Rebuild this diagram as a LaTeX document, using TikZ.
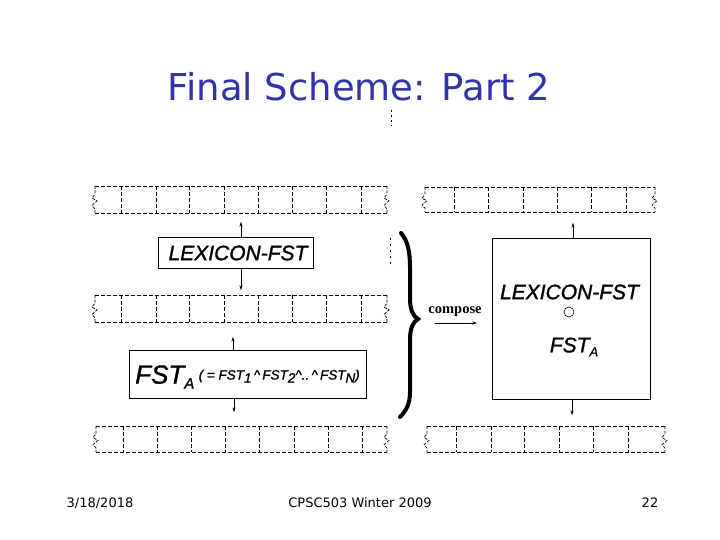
\documentclass[tikz,border=0pt]{standalone}
\usepackage{fontspec}
\setmainfont{Liberation Sans}
\newfontfamily\titlefont{DejaVu Sans}
\newfontfamily\boxfont[ItalicFeatures={FakeBold=1.3}]{Liberation Sans}
\newfontfamily\serifb{Liberation Serif}
\usetikzlibrary{arrows.meta}
\definecolor{titleblue}{RGB}{50,50,170}
\tikzset{
  tapeline/.style={draw, line width=0.8pt, dash pattern=on 4pt off 2pt},
  fstbox/.style={draw, line width=0.8pt, inner sep=0pt},
  arr/.style={-{Stealth[length=5pt,width=3pt]}, line width=0.7pt},
  lbl/.style={font=\boxfont\itshape\fontsize{21}{21}\selectfont, inner sep=0pt},
  foot/.style={font=\titlefont\fontsize{13}{13}\selectfont, inner sep=0pt}
}
\newcommand\mytape[6]{%
  % name, x1, x2, y1, y2, cells
  \node[inner sep=0pt, minimum width=#3pt-#2pt, minimum height=#5pt-#4pt] (#1) at ({(#2+#3)/2},{(#4+#5)/2}) {};
  \draw[tapeline] (#2,#4) -- (#3,#4);
  \draw[tapeline] (#2,#5) -- (#3,#5);
  \foreach \c in {#6} {\draw[tapeline] (\c,#4) -- (\c,#5);}
  \foreach \ex in {#2,#3} {
    \draw[line width=0.7pt, dash pattern=on 3pt off 1.5pt] (\ex,#4) -- (\ex,{#4+0.3*(#5-#4)}) -- ({\ex-3},{#4+0.45*(#5-#4)}) -- ({\ex+2},{#4+0.55*(#5-#4)}) -- ({\ex-3},{#4+0.72*(#5-#4)}) -- (\ex,{#4+0.85*(#5-#4)}) -- (\ex,#5);
  }
}
\begin{document}
\begin{tikzpicture}[x=1pt,y=-1pt]
\useasboundingbox (0,0) rectangle (720,540);
% title
\node[font=\titlefont\fontsize{37}{37}\selectfont, text=titleblue, inner sep=0pt] (title) at (359,87) {Final Scheme: Part 2};
% stray marks
\draw[line width=0.6pt, dash pattern=on 2pt off 3pt] (391,110) -- (391,126);
\draw[line width=0.6pt, dash pattern=on 2pt off 4pt] (390,238) -- (390,268);
% tapes left
\mytape{tl1}{95}{387}{186}{213}{121.7,156,189,224,258.7,292,326,361}
\mytape{tl2}{95}{387}{295}{322}{121.7,156,189,224,258.7,292,326,361}
\mytape{tl3}{96}{387}{426}{452}{123,157,191,225,259,294,328,362}
% tapes right
\mytape{tr1}{425}{655}{187}{212}{454,488,523,557,591,626}
\mytape{tr3}{427}{665}{426}{452}{456,491,524,559,593,628}
% left boxes
\node[fstbox, minimum width=155pt, minimum height=31pt] (lex) at (235.5,252.5) {};
\node[lbl] (lextxt) at (238,253) {LEXICON-FST};
\node[fstbox, minimum width=237pt, minimum height=48pt] (fsta) at (247.5,374) {};
\node[inner sep=0pt, anchor=west] (fstatxt) at (135,377) {\boxfont\itshape\fontsize{26}{26}\selectfont FST\raisebox{-5pt}{\fontsize{15}{15}\selectfont A}\,\raisebox{4pt}{\fontsize{13.5}{13.5}\selectfont ( = FST\raisebox{-3pt}{1}\,\^{}\,FST\raisebox{-3pt}{2}\^{}..\,\^{}\,FST\raisebox{-3pt}{N})}};
% right box
\node[fstbox, minimum width=158pt, minimum height=161pt] (big) at (571,318.5) {};
\node[lbl] (bigl) at (569.5,292) {LEXICON-FST};
\node[draw, circle, line width=0.6pt, minimum size=10pt, inner sep=0pt] (comp) at (569,312) {};
\node[inner sep=0pt] (bigf) at (574,347) {\boxfont\itshape\fontsize{21}{21}\selectfont FST\raisebox{-4pt}{\fontsize{13}{13}\selectfont A}};
% arrows
\draw[arr] ([xshift=5.5pt]lex.north) -- ([xshift=5.5pt,yshift=15pt]lex.north);
\draw[arr] ([xshift=5.5pt]lex.south) -- ([xshift=5.5pt,yshift=-22pt]lex.south);
\draw[arr] ([xshift=-14.5pt]fsta.north) -- ([xshift=-14.5pt,yshift=13pt]fsta.north);
\draw[arr] ([xshift=-13.5pt]fsta.south) -- ([xshift=-13.5pt,yshift=-14pt]fsta.south);
\draw[arr] ([xshift=2pt]big.north) -- ([xshift=2pt,yshift=15pt]big.north);
\draw[arr] ([xshift=1pt]big.south) -- ([xshift=1pt,yshift=-16pt]big.south);
% brace
\draw[line width=4pt, line cap=round] (401,233) .. controls (408,241) and (410,252) .. (410,268) -- (410,298) .. controls (410,310) and (413,316) .. (418,319) .. controls (413,322) and (410,328) .. (410,340) -- (410,392) .. controls (410,404) and (406,411) .. (400,417);
% compose
\node[font=\serifb\bfseries\fontsize{14.5}{14.5}\selectfont, inner sep=0pt] (compose) at (455,312) {compose};
\coordinate (c1) at (435,323);
\coordinate (c2) at (477,323);
\draw[-{Stealth[length=5pt,width=3pt]}, line width=0.6pt] (c1) -- (c2);
% footer
\node[foot] (date) at (100,503) {3/18/2018};
\node[foot] (course) at (360,503) {CPSC503 Winter 2009};
\node[foot] (page) at (650,503) {22};
\end{tikzpicture}
\end{document}
